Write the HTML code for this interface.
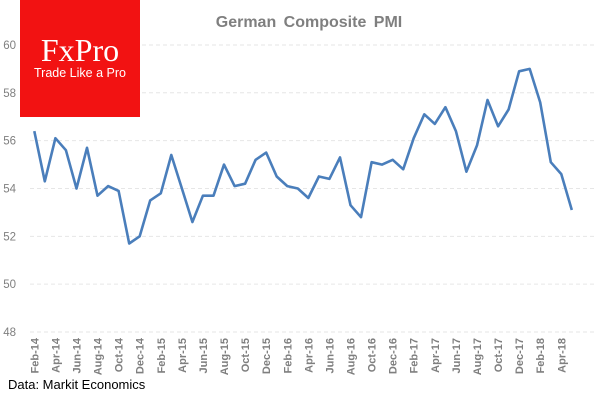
<!DOCTYPE html>
<html><head><meta charset="utf-8"><style>
body{margin:0;background:#fff;width:600px;height:400px;overflow:hidden;font-family:"Liberation Sans",sans-serif}
</style></head><body>
<svg id="chart" width="600" height="400" xmlns="http://www.w3.org/2000/svg">
<g id="grid"></g>
<g id="ylabels"></g>
<g id="xlabels"></g>
<path id="line" fill="none" stroke="#4a7ebb" stroke-width="2.6" stroke-linejoin="round"/>
<rect x="20" y="0" width="120" height="117" fill="#f21212"/>
<text x="80" y="61" text-anchor="middle" fill="#fff" font-family="Liberation Serif,serif" font-size="32">FxPro</text>
<text x="80" y="77" text-anchor="middle" fill="#fff" font-size="12.5">Trade Like a Pro</text>
<text x="309" y="27" text-anchor="middle" fill="#7f7f7f" font-weight="bold" font-size="16" word-spacing="3">German Composite PMI</text>
<text x="8" y="389" fill="#000" font-size="13">Data: Markit Economics</text>
</svg>
<script>
const values=[56.4,54.3,56.1,55.6,54.0,55.7,53.7,54.1,53.9,51.7,52.0,53.5,53.8,55.4,54.0,52.6,53.7,53.7,55.0,54.1,54.2,55.2,55.5,54.5,54.1,54.0,
53.6,54.5,54.4,55.3,53.3,52.8,55.1,55.0,55.2,54.8,56.1,57.1,56.7,57.4,56.4,54.7,55.8,57.7,56.6,57.3,58.9,59.0,57.6,55.1,54.6,53.1];
const xLabels=["Feb-14","Apr-14","Jun-14","Aug-14","Oct-14","Dec-14","Feb-15","Apr-15","Jun-15","Aug-15","Oct-15","Dec-15","Feb-16","Apr-16","Jun-16","Aug-16","Oct-16","Dec-16","Feb-17","Apr-17","Jun-17","Aug-17","Oct-17","Dec-17","Feb-18","Apr-18"];
const yTicks=[48,50,52,54,56,58,60];
const NS="http://www.w3.org/2000/svg";
const x=i=>34.3+i*10.54;
const y=v=>332-(v-48)*23.92;
const grid=document.getElementById('grid'),yl=document.getElementById('ylabels'),xl=document.getElementById('xlabels');
yTicks.forEach(t=>{
 const l=document.createElementNS(NS,'line');
 l.setAttribute('x1',30);l.setAttribute('x2',595);l.setAttribute('y1',y(t));l.setAttribute('y2',y(t));
 l.setAttribute('stroke','#e6e6e6');l.setAttribute('stroke-dasharray','4,3');
 
 
 grid.appendChild(l);
 const tx=document.createElementNS(NS,'text');
 tx.setAttribute('x',16);tx.setAttribute('y',y(t)+4);tx.setAttribute('text-anchor','end');
 tx.setAttribute('fill','#7f7f7f');tx.setAttribute('font-size','11.5');
 tx.textContent=t;
 
 
 yl.appendChild(tx);
});
xLabels.forEach((s,k)=>{
 const tx=document.createElementNS(NS,'text');
 const px=x(k*2)+4;
 tx.setAttribute('transform',`translate(${px},338) rotate(-90)`);
 tx.setAttribute('text-anchor','end');tx.setAttribute('fill','#7f7f7f');
 tx.setAttribute('font-size','11');tx.setAttribute('font-weight','bold');
 tx.textContent=s;
 
 
 xl.appendChild(tx);
});
document.getElementById('line').setAttribute('d',values.map((v,i)=>(i?'L':'M')+x(i).toFixed(1)+','+y(v).toFixed(1)).join(''));
</script>
</body></html>
